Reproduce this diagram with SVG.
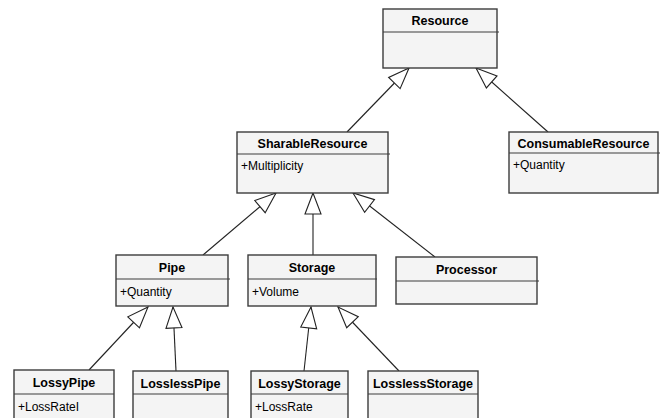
<svg xmlns="http://www.w3.org/2000/svg" width="661" height="418" viewBox="0 0 661 418">
<style>
.box{fill:#f4f4f4;stroke:#3c3c3c;stroke-width:1.4}
.div{stroke:#3c3c3c;stroke-width:1.2}
.t{font-family:"Liberation Sans",Arial,sans-serif;font-size:12.5px;font-weight:bold;fill:#000;text-anchor:middle}
.a{font-family:"Liberation Sans",Arial,sans-serif;font-size:12px;fill:#000}
.c{stroke:#222;stroke-width:1.1;fill:none;marker-end:url(#gen)}
</style>
<defs>
<marker id="gen" viewBox="-23 -10 25 20" refX="0" refY="0" markerWidth="25" markerHeight="20" markerUnits="userSpaceOnUse" orient="auto">
<path d="M0,0 L-21,-8 L-21,8 Z" fill="#fff" stroke="#222" stroke-width="1.1"/>
</marker>
</defs>
<rect width="661" height="418" fill="#fff"/>
<g id="connectors">
<line class="c" x1="347" y1="132" x2="409" y2="68"/>
<line class="c" x1="548" y1="132" x2="476" y2="68"/>
<line class="c" x1="203" y1="255" x2="276" y2="193"/>
<line class="c" x1="313" y1="255" x2="313" y2="193"/>
<line class="c" x1="435" y1="257" x2="353" y2="193"/>
<line class="c" x1="89" y1="370" x2="148" y2="307"/>
<line class="c" x1="176" y1="371" x2="173" y2="307"/>
<line class="c" x1="304" y1="371" x2="311" y2="307"/>
<line class="c" x1="399" y1="371" x2="338" y2="307"/>
</g>
<g id="Resource">
<rect class="box" x="383" y="9" width="114" height="59"/>
<line class="div" x1="383" y1="32" x2="499" y2="32"/>
<text class="t" x="440" y="25">Resource</text>
</g>
<g id="SharableResource">
<rect class="box" x="237" y="132" width="151" height="61"/>
<line class="div" x1="237" y1="154" x2="390" y2="154"/>
<text class="t" x="312.5" y="148">SharableResource</text>
<text class="a" x="241" y="170">+Multiplicity</text>
</g>
<g id="ConsumableResource">
<rect class="box" x="509" y="132" width="149" height="61"/>
<line class="div" x1="509" y1="153" x2="660" y2="153"/>
<text class="t" x="583.5" y="148">ConsumableResource</text>
<text class="a" x="513" y="169">+Quantity</text>
</g>
<g id="Pipe">
<rect class="box" x="116" y="255" width="112" height="51"/>
<line class="div" x1="116" y1="279" x2="230" y2="279"/>
<text class="t" x="172" y="272">Pipe</text>
<text class="a" x="120" y="296">+Quantity</text>
</g>
<g id="Storage">
<rect class="box" x="248" y="255" width="128" height="51"/>
<line class="div" x1="248" y1="279" x2="377" y2="279"/>
<text class="t" x="312" y="272">Storage</text>
<text class="a" x="252" y="296">+Volume</text>
</g>
<g id="Processor">
<rect class="box" x="396" y="257" width="141" height="47"/>
<line class="div" x1="396" y1="281" x2="539" y2="281"/>
<text class="t" x="466.5" y="274">Processor</text>
</g>
<g id="LossyPipe">
<rect class="box" x="14" y="370" width="100" height="60"/>
<line class="div" x1="14" y1="394" x2="114" y2="394"/>
<text class="t" x="64" y="387">LossyPipe</text>
<text class="a" x="18" y="411">+LossRateI</text>
</g>
<g id="LosslessPipe">
<rect class="box" x="133" y="371" width="95" height="60"/>
<line class="div" x1="133" y1="394" x2="228" y2="394"/>
<text class="t" x="180.5" y="388">LosslessPipe</text>
</g>
<g id="LossyStorage">
<rect class="box" x="251" y="371" width="97" height="60"/>
<line class="div" x1="251" y1="394" x2="348" y2="394"/>
<text class="t" x="299.5" y="388">LossyStorage</text>
<text class="a" x="255" y="411">+LossRate</text>
</g>
<g id="LosslessStorage">
<rect class="box" x="368" y="371" width="110" height="60"/>
<line class="div" x1="368" y1="394" x2="478" y2="394"/>
<text class="t" x="423" y="388">LosslessStorage</text>
</g>
</svg>
